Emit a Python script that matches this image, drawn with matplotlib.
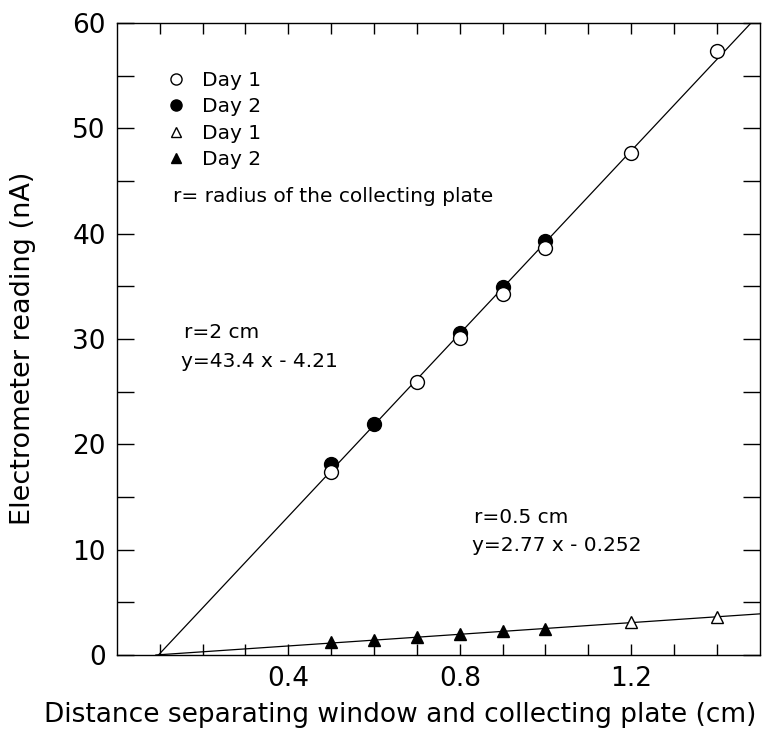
import numpy as np
import matplotlib
matplotlib.use("Agg")
import matplotlib.pyplot as plt

# ── data ─────────────────────────────────────────────────────────────────────
# r = 2 cm collecting plate
big_day1_x = [0.5, 0.7, 0.8, 0.9, 1.0, 1.2, 1.4]
big_day1_y = [17.4, 25.9, 30.1, 34.3, 38.6, 47.7, 57.3]
big_day2_x = [0.5, 0.6, 0.8, 0.9, 1.0]
big_day2_y = [18.1, 21.9, 30.6, 34.9, 39.3]
big_fit = (43.4, -4.21)

# r = 0.5 cm collecting plate
small_day1_x = [1.2, 1.4]
small_day1_y = [3.1, 3.6]
small_day2_x = [0.5, 0.6, 0.7, 0.8, 0.9, 1.0]
small_day2_y = [1.2, 1.4, 1.7, 2.0, 2.3, 2.5]
small_fit = (2.77, -0.252)

x_max = 1.5
y_max = 60
x_ticks_labeled = [0.4, 0.8, 1.2]
y_ticks_labeled = [0, 10, 20, 30, 40, 50, 60]

plt.rcParams["font.family"] = "DejaVu Sans"

fig = plt.figure(figsize=(7.69, 7.31), dpi=100)
ax = fig.add_axes([0.152, 0.104, 0.836, 0.8645])

# fit lines, from the x-intercept to the right edge
for slope, icpt in (big_fit, small_fit):
    xs = np.array([-icpt / slope, x_max])
    ax.plot(xs, slope * xs + icpt, color="black", lw=0.9, zorder=1)

ax.plot(big_day1_x, big_day1_y, "o", ms=10, mfc="white", mec="black", mew=1.0,
        label="Day 1", zorder=3)
ax.plot(big_day2_x, big_day2_y, "o", ms=10, mfc="black", mec="black",
        label="Day 2", zorder=2)
ax.plot(small_day1_x, small_day1_y, "^", ms=9, mfc="white", mec="black", mew=1.0,
        label="Day 1", zorder=3)
ax.plot(small_day2_x, small_day2_y, "^", ms=9, mfc="black", mec="black",
        label="Day 2", zorder=3)

leg = ax.legend(loc="upper left", bbox_to_anchor=(0.08, 0.924), frameon=False,
                fontsize=14.5, markerscale=0.8, handlelength=0.8,
                handletextpad=0.85, labelspacing=0.36, borderaxespad=0,
                borderpad=0)

txt = dict(transform=ax.transAxes, fontsize=14.5, va="center")
ax.text(0.088, 0.726, "r= radius of the collecting plate", **txt)
ax.text(0.104, 0.511, "r=2 cm", **txt)
ax.text(0.099, 0.464, "y=43.4 x - 4.21", **txt)
ax.text(0.555, 0.218, "r=0.5 cm", **txt)
ax.text(0.552, 0.174, "y=2.77 x - 0.252", **txt)

ax.set_xlim(0, x_max)
ax.set_ylim(0, y_max)
ax.set_xticks(np.arange(0.1, x_max, 0.1), minor=True)
ax.set_xticks(x_ticks_labeled)
ax.set_xticklabels([f"{v:.1f}" for v in x_ticks_labeled])
ax.set_yticks(np.arange(5, y_max, 10), minor=True)
ax.set_yticks(y_ticks_labeled)
ax.tick_params(which="both", direction="in", top=True, right=True, width=1.0)
ax.tick_params(axis="x", which="both", length=8)
ax.tick_params(axis="y", which="both", length=12)
ax.tick_params(which="major", labelsize=19, pad=8)

ax.set_xlabel("Distance separating window and collecting plate (cm)", fontsize=19)
ax.xaxis.set_label_coords(0.44, -0.095)
ax.xaxis.label.set_va("center")
ax.set_ylabel("Electrometer reading (nA)", fontsize=19.5)
ax.yaxis.set_label_coords(-0.146, 0.486)
ax.yaxis.label.set_va("center")

for s in ax.spines.values():
    s.set_linewidth(1.0)

fig.savefig("out.png", dpi=100)
